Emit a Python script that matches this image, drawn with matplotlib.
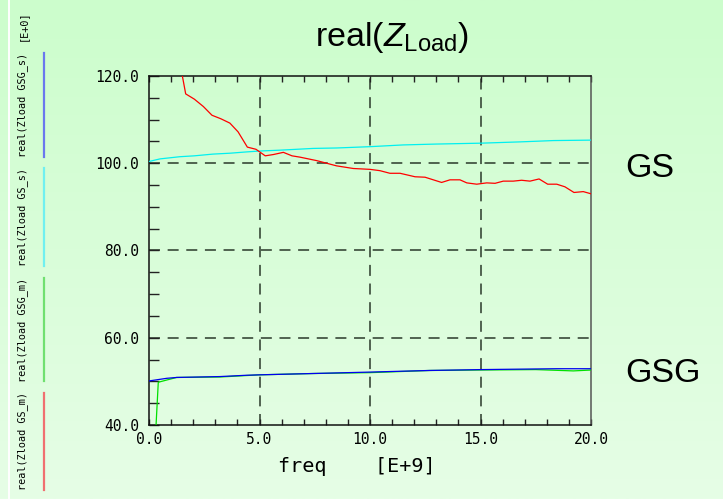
import numpy as np
import matplotlib
matplotlib.use("Agg")
import matplotlib.pyplot as plt
from matplotlib.lines import Line2D

# ---- data (frequency in GHz, real part of load impedance in ohm) ----
freq_gs_m = [1.25, 1.66, 2.05, 2.46, 2.85, 3.25, 3.66, 4.03, 4.45, 4.84, 5.26, 5.63,
             6.08, 6.47, 6.83, 7.59, 8.49, 9.24, 10.0, 10.45, 10.9, 11.36, 12.04,
             12.49, 13.24, 13.62, 14.07, 14.38, 14.83, 15.28, 15.66, 16.03, 16.48,
             16.86, 17.24, 17.65, 18.04, 18.45, 18.82, 19.23, 19.65, 20.0]
zload_gs_m = [127.1, 115.9, 114.7, 113.0, 111.0, 110.2, 109.2, 107.2, 103.7, 103.2, 101.7,
              102.0, 102.5, 101.7, 101.4, 100.6, 99.4, 98.8, 98.6, 98.3, 97.7, 97.7,
              96.9, 96.8, 95.6, 96.2, 96.2, 95.5, 95.2, 95.5, 95.4, 95.9, 95.9, 96.1,
              95.9, 96.4, 95.2, 95.2, 94.6, 93.3, 93.5, 93.0]

freq_gs_s = [0.0, 0.5, 1.4, 2.05, 2.9, 3.66, 4.42, 5.0, 5.93, 6.68, 7.43, 8.49, 10.0,
             11.5, 13.0, 15.0, 16.8, 18.3, 20.0]
zload_gs_s = [100.4, 101.0, 101.5, 101.7, 102.1, 102.3, 102.6, 102.8, 103.0, 103.2,
              103.4, 103.5, 103.8, 104.2, 104.4, 104.6, 104.9, 105.2, 105.3]

freq_gsg_s = [0.0, 0.8, 1.25, 3.2, 4.4, 5.0, 7.4, 9.77, 12.7, 15.0, 18.45, 20.0]
zload_gsg_s = [50.1, 50.7, 50.9, 51.1, 51.4, 51.5, 51.8, 52.1, 52.5, 52.7, 52.9, 52.9]

freq_gsg_m = [0.0, 0.42, 0.87, 1.25, 3.2, 5.0, 7.4, 10.0, 12.7, 15.0, 17.5, 19.2, 20.0]
zload_gsg_m = [9.0, 49.8, 50.4, 50.9, 51.0, 51.5, 51.8, 52.0, 52.5, 52.6, 52.7, 52.4, 52.6]

xticks = [0, 5, 10, 15, 20]
xtick_labels = ["0.0", "5.0", "10.0", "15.0", "20.0"]
yticks = [40, 60, 80, 100, 120]
ytick_labels = ["40.0", "60.0", "80.0", "100.0", "120.0"]

legend_labels = ["real(Zload GSG_s)", "real(Zload GS_s)",
                 "real(Zload GSG_m)", "real(Zload GS_m)"]

plt.rcParams["mathtext.fontset"] = "custom"
plt.rcParams["mathtext.rm"] = "Liberation Sans"
plt.rcParams["mathtext.it"] = "Liberation Sans:italic"

W, H = 723, 499
fig = plt.figure(figsize=(W / 100, H / 100), dpi=100)

# light green vertical gradient background
bg = fig.add_axes([0, 0, 1, 1], zorder=-10)
top = np.array([204, 253, 204]) / 255
bot = np.array([230, 254, 230]) / 255
t = np.linspace(0, 1, 256)[:, None]
grad = (top[None, :] * (1 - t) + bot[None, :] * t)[:, None, :]
bg.imshow(grad, aspect="auto", extent=[0, 1, 0, 1], origin="upper")
bg.set_axis_off()

fig.add_artist(Line2D([8.5 / W] * 2, [0, 1], color="white", lw=1.4,
                      transform=fig.transFigure))

ax = fig.add_axes([149 / W, 1 - 425 / H, 442 / W, 349 / H])
ax.patch.set_alpha(0)
ax.set_xlim(0, 20)
ax.set_ylim(40, 120)

mono = "DejaVu Sans Mono"
ax.set_xticks(xticks)
ax.set_xticklabels(xtick_labels, family=mono, fontsize=10.5)
ax.set_yticks(yticks)
ax.set_yticklabels(ytick_labels, family=mono, fontsize=10.5)
ax.set_xticks(np.arange(0, 20.01, 1.0), minor=True)
ax.set_yticks(np.arange(40, 120.01, 5.0), minor=True)
ax.tick_params(axis="x", which="both", direction="in", length=4.3, width=1,
               top=True, bottom=True, pad=5, color="#222222")
ax.tick_params(axis="y", which="both", direction="in", length=7.2, width=1,
               left=True, right=False, pad=7, color="#222222")

for side in ["left", "top", "bottom"]:
    ax.spines[side].set_color("#111111")
    ax.spines[side].set_linewidth(1.1)
ax.spines["right"].set_color("#555555")
ax.spines["right"].set_linewidth(1.1)

grid_kw = dict(color="#2a382a", lw=1.1, dashes=(7.2, 5.0), zorder=1)
for gx in xticks[1:-1]:
    ax.axvline(gx, **grid_kw)
for gy in yticks[1:-1]:
    ax.axhline(gy, **grid_kw)

lw = 0.9
ax.plot(freq_gs_s, zload_gs_s, color="#00f0f0", lw=lw, zorder=3)
ax.plot(freq_gs_m, zload_gs_m, color="#ff0000", lw=lw, zorder=4)
ax.plot(freq_gsg_m, zload_gsg_m, color="#00e000", lw=lw, zorder=3)
ax.plot(freq_gsg_s, zload_gsg_s, color="#0000ee", lw=lw, zorder=4)

fig.text(278 / W, 1 - 466 / H, "freq    [E+9]", family=mono, fontsize=14.5,
         ha="left", va="center")

# left side legend: rotated series names with colour bars
legend_colors = ["#6a78ee", "#70f0f0", "#70e070", "#f07070"]
legend_spans = [(53, 157), (168, 266), (278, 381), (393, 490)]
fig.text(23 / W, 1 - 26 / H, "[E+0]", family=mono, fontsize=7.3,
         rotation=90, ha="center", va="center")
for lab, col, (y0, y1) in zip(legend_labels, legend_colors, legend_spans):
    fig.text(23 / W, 1 - (y0 + y1) / 2 / H, lab, family=mono, fontsize=7.3,
             rotation=90, ha="center", va="center")
    fig.add_artist(Line2D([43.7 / W] * 2, [1 - y0 / H, 1 - y1 / H], color=col,
                          lw=1.6, transform=fig.transFigure))

fig.text(392 / W, 1 - 45.7 / H, r"real($Z_{\mathrm{Load}}$)",
         family="Liberation Sans", fontsize=24.5, ha="center", va="baseline")
fig.text(625 / W, 1 - 177.3 / H, "GS", family="Liberation Sans",
         fontsize=24.5, ha="left", va="baseline")
fig.text(625 / W, 1 - 382.3 / H, "GSG", family="Liberation Sans",
         fontsize=24.5, ha="left", va="baseline")

fig.savefig("out.png", dpi=100)
